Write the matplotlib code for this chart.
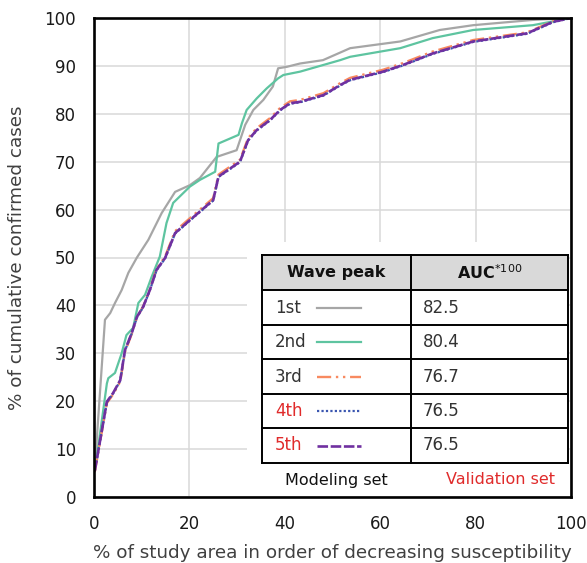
import numpy as np
import matplotlib
matplotlib.use("Agg")
import matplotlib.pyplot as plt

plt.rcParams['font.family'] = ['DejaVu Sans']

## data ##
x1 = [0, 0.3, 2.3, 3.4, 4.4, 5.8, 7.2, 9, 11.4, 14.2, 17, 20.1, 22.2, 25.7, 29.9, 31.7,
      33.4, 35.5, 37.5, 38.6, 40.4, 43.2, 48, 53.7, 64.2, 72.5, 79.5, 92, 100]
y1 = [5.5, 8, 37, 38.4, 40.5, 43.2, 46.8, 50, 53.7, 59.3, 63.7, 65.1, 66.6, 71, 72.4, 77.7,
      80.8, 82.9, 85.7, 89.5, 89.8, 90.5, 91.2, 93.7, 95.1, 97.5, 98.5, 99.6, 100]

x2 = [0, 0.6, 2.7, 3, 4.4, 5.8, 6.8, 8.2, 9.3, 10.7, 12.1, 13.8, 15.2, 16.6, 20.1, 22.2,
      25.4, 26.1, 30.3, 31, 32, 34.1, 36.2, 38.6, 39.7, 43.2, 51.6, 53.7, 64.2, 71, 79.5, 92, 100]
y2 = [6, 8.4, 23.7, 24.8, 25.9, 30, 33.8, 35.3, 40.5, 42.2, 46, 50.2, 57.2, 61.4, 64.8, 66.2,
      67.9, 73.8, 75.6, 78, 80.8, 83.2, 85.3, 87.4, 88.1, 88.8, 91.2, 91.9, 93.7, 95.8, 97.5, 98.5, 100]

x5 = [0, 0.2, 2.7, 4, 5.5, 6.5, 7.9, 9, 10.3, 11.7, 13.1, 14.9, 17, 20.1, 22.2, 25, 26.1,
      30.6, 32.3, 34.1, 36.9, 39, 41.1, 43.2, 48.1, 51.6, 53.7, 60.6, 64.8, 71, 79.5, 90.8, 96.2, 100]
y5 = [5.5, 5.6, 19.9, 21.7, 24.4, 30.7, 34.2, 37.6, 39.7, 43.2, 47.4, 49.9, 55.1, 57.8, 59.6, 62, 66.9,
      70, 74.5, 76.6, 78.7, 80.8, 82.2, 82.5, 83.9, 86, 87.1, 88.8, 90.2, 92.6, 95.1, 96.8, 99.2, 100]

x3 = [0, 0.2, 2.7, 4, 5.5, 6.5, 7.9, 9, 10.3, 11.7, 13.1, 14.9, 17, 20.1, 22.2, 25, 26.1,
      30.6, 32.3, 34.1, 36.9, 39, 41.1, 43.2, 48.1, 51.6, 53.7, 60.6, 64.8, 71, 79.5, 90.8, 96.2, 100]
y3 = [5.2, 5.4, 19.6, 21.4, 24.1, 30.3, 34.0, 37.5, 39.8, 43.3, 47.6, 50.2, 55.5, 58.2, 60.0, 62.4, 67.3,
      70.4, 74.9, 77.0, 79.1, 81.2, 82.6, 82.9, 84.3, 86.4, 87.5, 89.2, 90.6, 93.0, 95.4, 97.0, 99.3, 100]

x4 = x5
y4 = [5.5, 5.6, 19.8, 21.6, 24.3, 30.6, 34.1, 37.5, 39.6, 43.1, 47.3, 49.8, 55.0, 57.7, 59.5, 61.9, 66.8,
      69.9, 74.4, 76.5, 78.6, 80.7, 82.1, 82.4, 83.8, 85.9, 87.0, 88.7, 90.1, 92.5, 95.0, 96.7, 99.1, 100]

waves = ['1st', '2nd', '3rd', '4th', '5th']
auc = [82.5, 80.4, 76.7, 76.5, 76.5]
wave_colors = ['#333333', '#333333', '#333333', '#e02b2b', '#e02b2b']

xs = [x1, x2, x3, x4, x5]
ys = [y1, y2, y3, y4, y5]
line_colors = ['#a6a6a6', '#5ec4a0', '#f88a60', '#3a56b0', '#7030a0']
styles = ['-', '-', (0, (6, 2, 1, 2, 1, 2)), (0, (1, 1)), (0, (4, 1))]
widths = [1.6, 1.6, 1.7, 1.6, 1.9]

## figure ##
W, H = 587, 563
fig = plt.figure(figsize=(W / 100, H / 100), dpi=100)
ax = fig.add_axes([94 / W, 66 / H, 477 / W, 479 / H])

for x, y, c, ls, lw in zip(xs, ys, line_colors, styles, widths):
    ax.plot(x, y, color=c, linestyle=ls, linewidth=lw, zorder=3)

ax.set_xlim(0, 100)
ax.set_ylim(0, 100)
ax.set_xticks(np.arange(0, 101, 20))
ax.set_yticks(np.arange(0, 101, 10))
ax.grid(True, color='#d9d9d9', linewidth=1.1)
ax.set_axisbelow(True)
for s in ax.spines.values():
    s.set_linewidth(1.9)
    s.set_color('black')
    s.set_zorder(10)
ax.tick_params(length=0, labelsize=12, colors='#1a1a1a', pad=13)
ax.set_xlabel('% of study area in order of decreasing susceptibility',
              fontsize=13.2, color='#404040', labelpad=8)
ax.set_ylabel('% of cumulative confirmed cases', fontsize=13.2, color='#404040', labelpad=13)

## table drawn in pixel coords of an inset ##
tab = fig.add_axes([247 / W, 67 / H, 322 / W, 254 / H])
tab.set_xlim(0, 322)
tab.set_ylim(254, 0)
tab.axis('off')
tab.add_patch(plt.Rectangle((0, 0), 322, 254, facecolor='white', edgecolor='none', zorder=0))

L, R, M = 15, 321, 164
tops = [13, 48, 83, 117, 152, 186, 221]
tab.add_patch(plt.Rectangle((L, tops[0]), R - L, tops[1] - tops[0], facecolor='#d9d9d9',
                            edgecolor='none', zorder=1))
for yy in tops:
    tab.plot([L, R], [yy, yy], color='black', lw=1.4, zorder=3)
for xx in [L, M, R]:
    tab.plot([xx, xx], [tops[0], tops[-1]], color='black', lw=1.4, zorder=3)

tab.text((L + M) / 2, (tops[0] + tops[1]) / 2, 'Wave peak', ha='center', va='center',
         fontsize=11.5, fontweight='bold', color='#111111')
tab.text((M + R) / 2, (tops[0] + tops[1]) / 2, 'AUC$^{*100}$', ha='center', va='center',
         fontsize=11.5, fontweight='bold', color='#111111')

for i, (w, a) in enumerate(zip(waves, auc)):
    yc = (tops[i + 1] + tops[i + 2]) / 2
    tab.text(L + 13, yc, w, ha='left', va='center', fontsize=12, color=wave_colors[i])
    tab.plot([70, 114], [yc, yc], color=line_colors[i], linestyle=styles[i],
             linewidth=widths[i], zorder=4)
    tab.text(M + 12, yc, f'{a:.1f}', ha='left', va='center', fontsize=12, color='#333333')

tab.text(89, 238, 'Modeling set', ha='center', va='center', fontsize=11.5, color='#111111')
tab.text(253, 238, 'Validation set', ha='center', va='center', fontsize=11.5, color='#e02b2b')

fig.savefig('out.png', dpi=100)
